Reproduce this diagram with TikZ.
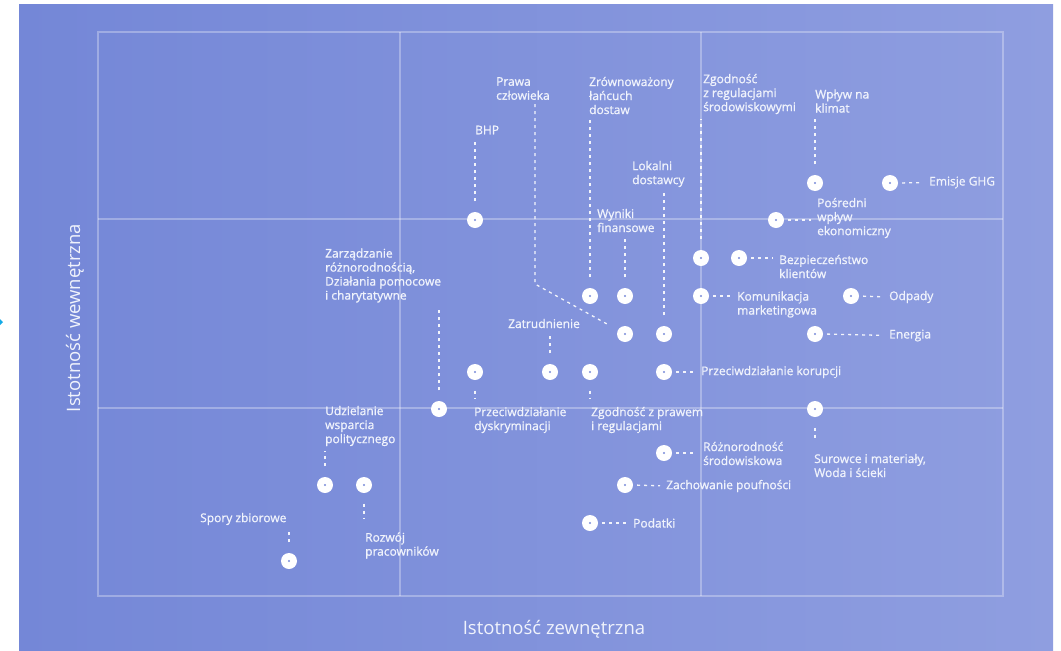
\documentclass[tikz,border=0pt]{standalone}
\usepackage{fontspec}
\setmainfont{Open Sans}
\newfontfamily\labfont[FakeBold=1.0]{Open Sans}
\usetikzlibrary{calc}
\definecolor{bgL}{RGB}{116,135,215}
\definecolor{bgR}{RGB}{143,158,224}
\definecolor{dotc}{RGB}{120,138,216}
\definecolor{txtc}{RGB}{240,243,252}
\definecolor{markc}{RGB}{20,170,230}
\tikzset{
  dot/.style={circle, fill=white, minimum size=16pt, inner sep=0pt,
    path picture={\fill[dotc] (path picture bounding box.center) circle (1.1pt);}},
  lab/.style={text=txtc, font=\labfont\fontsize{12}{14}\selectfont, inner sep=0pt, align=left, anchor=west},
  axislab/.style={text=txtc, font=\fontsize{18.5}{22}\selectfont, inner sep=0pt},
  grid/.style={draw=white, draw opacity=0.3, line width=1.3pt},
  conn/.style={draw=white, draw opacity=0.9, line width=1.3pt, dash pattern=on 3pt off 4pt},
  vconn/.style={conn, shorten <=10.5pt, shorten >=5pt},
  hconn/.style={conn, shorten <=4pt, shorten >=6pt}
}
\begin{document}
\begin{tikzpicture}[x=1pt,y=-1pt]
\useasboundingbox (0,0) rectangle (1061,651);
\shade[left color=bgL, right color=bgR] (19,4) rectangle (1053,651);
\fill[markc] (-1,318) -- (3,322) -- (-1,326) -- cycle;
% frame and grid
\draw[grid] (98,32) rectangle (1003,596);
\draw[grid] (400,32) -- (400,596);
\draw[grid] (701,32) -- (701,596);
\draw[grid] (98,219) -- (1003,219);
\draw[grid] (98,408) -- (1003,408);
% axis labels
\node[axislab, rotate=90] (ay) at (75,318) {Istotność wewnętrzna};
\node[axislab] (ax) at (554,629) {Istotność zewnętrzna};
% dots
\node[dot] (dBHP) at (475,220) {};
\node[dot] (dPrawa) at (625,334) {};
\node[dot] (dZrown) at (590,296) {};
\node[dot] (dWyniki) at (625,296) {};
\node[dot] (dZgSrod) at (701,258) {};
\node[dot] (dKom) at (701,296) {};
\node[dot] (dLok) at (664,334) {};
\node[dot] (dZatr) at (550,372) {};
\node[dot] (dDysk) at (475,372) {};
\node[dot] (dZgPraw) at (590,372) {};
\node[dot] (dKor) at (664,372) {};
\node[dot] (dZarz) at (439,409) {};
\node[dot] (dKlimat) at (815,183) {};
\node[dot] (dGHG) at (890,183) {};
\node[dot] (dPosr) at (776,220) {};
\node[dot] (dBezp) at (739,258) {};
\node[dot] (dOdp) at (851,296) {};
\node[dot] (dEn) at (815,334) {};
\node[dot] (dSur) at (815,409) {};
\node[dot] (dRoz) at (664,453) {};
\node[dot] (dZach) at (625,485) {};
\node[dot] (dPod) at (590,523) {};
\node[dot] (dUdz) at (325,485) {};
\node[dot] (dRozw) at (364,485) {};
\node[dot] (dSpory) at (289,561) {};
% labels
\node[lab] (lBHP) at (475,130) {BHP};
\node[lab] (lPrawa) at (496,88.5) {Prawa\\człowieka};
\node[lab] (lZrown) at (589,95.5) {Zrównoważony\\łańcuch\\dostaw};
\node[lab] (lZgSrod) at (703,94) {Zgodność\\z regulacjami\\środowiskowymi};
\node[lab] (lKlimat) at (815,101) {Wpływ na\\klimat};
\node[lab] (lGHG) at (929,182.5) {Emisje GHG};
\node[lab] (lPosr) at (817,218) {Pośredni\\wpływ\\ekonomiczny};
\node[lab] (lLok) at (632,174) {Lokalni\\dostawcy};
\node[lab] (lWyniki) at (597,220.5) {Wyniki\\finansowe};
\node[lab] (lBezp) at (779,266.5) {Bezpieczeństwo\\klientów};
\node[lab] (lKom) at (737,304.5) {Komunikacja\\marketingowa};
\node[lab] (lOdp) at (889,297) {Odpady};
\node[lab] (lEn) at (889,335.5) {Energia};
\node[lab] (lKor) at (701,372) {Przeciwdziałanie korupcji};
\node[lab] (lZarz) at (325,275.5) {Zarządzanie\\różnorodnością,\\Działania pomocowe\\i charytatywne};
\node[lab] (lZatr) at (508,323.5) {Zatrudnienie};
\node[lab] (lDysk) at (474,420) {Przeciwdziałanie\\dyskryminacji};
\node[lab] (lZgPraw) at (591,420) {Zgodność z prawem\\i regulacjami};
\node[lab] (lUdz) at (325,426) {Udzielanie\\wsparcia\\politycznego};
\node[lab] (lRozw) at (365,545.5) {Rozwój\\pracowników};
\node[lab] (lSpory) at (200,519) {Spory zbiorowe};
\node[lab] (lRoz) at (703,453.5) {Różnorodność\\środowiskowa};
\node[lab] (lZach) at (666,486) {Zachowanie poufności};
\node[lab] (lPod) at (633,523) {Podatki};
\node[lab] (lSur) at (814,465.5) {Surowce i materiały,\\Woda i ścieki};
% vertical connectors (label above dot)
\draw[vconn] (dBHP) -- (dBHP |- lBHP.south);
\draw[vconn] (dZrown) -- (dZrown |- lZrown.south);
\draw[vconn] (dWyniki) -- (dWyniki |- lWyniki.south);
\draw[vconn] (dZgSrod) -- (dZgSrod |- lZgSrod.south);
\draw[vconn] (dLok) -- (dLok |- lLok.south);
\draw[vconn] (dKlimat) -- (dKlimat |- lKlimat.south);
\draw[vconn] (dZarz) -- (dZarz |- lZarz.south);
\draw[vconn] (dZatr) -- (dZatr |- lZatr.south);
\draw[vconn] (dUdz) -- (dUdz |- lUdz.south);
\draw[vconn] (dSpory) -- (dSpory |- lSpory.south);
% vertical connectors (label below dot)
\draw[conn, shorten <=10.5pt, shorten >=8pt] (dDysk) -- (dDysk |- lDysk.north);
\draw[conn, shorten <=10.5pt, shorten >=8pt] (dZgPraw) -- (dZgPraw |- lZgPraw.north);
\draw[conn, shorten <=10.5pt, shorten >=14pt] (dRozw) -- (dRozw |- lRozw.north);
\draw[conn, shorten <=10.5pt, shorten >=14pt] (dSur) -- (dSur |- lSur.north);
% bent connector
\coordinate (bPrawa) at (535,284);
\draw[conn, shorten >=9pt] ($(lPrawa.south -| bPrawa)+(0,4)$) -- (bPrawa) -- (dPrawa);
% horizontal connectors
\draw[hconn] (dGHG.east) -- (lGHG.west);
\draw[hconn] (dPosr.east) -- (lPosr.west |- dPosr);
\draw[hconn] (dBezp.east) -- (lBezp.west |- dBezp);
\draw[hconn] (dKom.east) -- (lKom.west |- dKom);
\draw[hconn] (dOdp.east) -- (lOdp.west);
\draw[hconn] (dEn.east) -- (lEn.west);
\draw[hconn] (dKor.east) -- (lKor.west);
\draw[hconn] (dRoz.east) -- (lRoz.west |- dRoz);
\draw[hconn] (dZach.east) -- (lZach.west);
\draw[hconn] (dPod.east) -- (lPod.west);
\end{tikzpicture}
\end{document}
